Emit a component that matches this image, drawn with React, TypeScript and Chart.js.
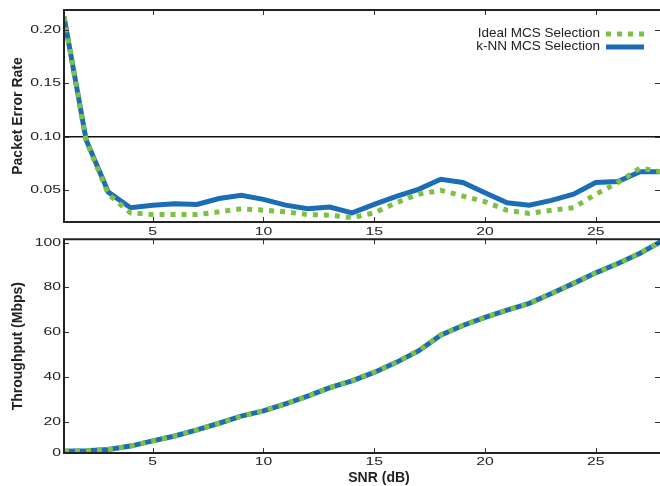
import { useEffect, useRef } from 'react';
import { Chart, registerables } from 'chart.js';

Chart.register(...registerables);

const SNR = [1, 2, 3, 4, 5, 6, 7, 8, 9, 10, 11, 12, 13, 14, 15, 16, 17, 18, 19, 20, 21, 22, 23, 24, 25, 26, 27, 28];

const PER_IDEAL = [0.2125, 0.096, 0.046, 0.0286, 0.027, 0.027, 0.027, 0.0295, 0.0324, 0.0311, 0.0295, 0.027, 0.0264, 0.024, 0.0286, 0.038, 0.046, 0.0497, 0.0443, 0.039, 0.031, 0.028, 0.031, 0.0334, 0.046, 0.057, 0.0705, 0.067];
const PER_KNN = [0.2125, 0.097, 0.048, 0.0334, 0.0358, 0.037, 0.0365, 0.042, 0.045, 0.0412, 0.0358, 0.0324, 0.034, 0.0286, 0.0365, 0.044, 0.0506, 0.06, 0.057, 0.0475, 0.038, 0.0358, 0.0403, 0.046, 0.057, 0.058, 0.0672, 0.0672];

const THR_IDEAL = [6.8, 7.0, 7.6, 9.1, 11.4, 13.6, 16.3, 19.3, 22.5, 24.8, 28.0, 31.4, 35.2, 38.4, 42.2, 46.6, 51.8, 58.8, 63.0, 66.6, 69.9, 72.9, 77.3, 81.8, 86.5, 90.7, 95.3, 100.8];
const THR_KNN = [6.8, 7.0, 7.6, 9.1, 11.4, 13.6, 16.3, 19.3, 22.5, 24.8, 28.0, 31.4, 35.2, 38.2, 42.0, 46.5, 51.6, 58.6, 63.0, 66.6, 69.9, 72.9, 77.3, 81.8, 86.5, 90.7, 95.3, 100.8];

const SERIES_LABELS = ['Ideal MCS Selection', 'k-NN MCS Selection'];
const X_TICKS = [5, 10, 15, 20, 25];
const PER_TICKS = [0.05, 0.1, 0.15, 0.2];
const THR_TICKS = [0, 20, 40, 60, 80, 100];
const PER_THRESHOLD = 0.1;
const X_TITLE = 'SNR (dB)';
const PER_TITLE = 'Packet Error Rate';
const THR_TITLE = 'Throughput (Mbps)';

const BLUE = '#1b6db6';
const GREEN = '#7cc142';
const FONT = 'Liberation Sans, Arial, Helvetica, sans-serif';

const pts = (ys: number[]) => SNR.map((x, i) => ({ x, y: ys[i] }));

// Tick labels in the reference are horizontally stretched glyphs
const stretchPlugin = {
  id: 'tickStretch',
  beforeDraw(chart: any) {
    Object.values(chart.scales).forEach((s: any) => {
      if (s.__stretched) return;
      const orig = s.drawLabels.bind(s);
      s.drawLabels = (area: any) => {
        const c = s.ctx;
        const protoFill = CanvasRenderingContext2D.prototype.fillText;
        c.fillText = function (text: string, x: number, y: number) {
          c.save();
          c.translate(x, y);
          c.scale(1.5, 1);
          protoFill.call(c, text, 0, 0);
          c.restore();
        };
        try {
          orig(area);
        } finally {
          delete c.fillText;
        }
      };
      s.__stretched = true;
    });
  },
};

const framePlugin = {
  id: 'frameTicks',
  afterDraw(chart: any) {
    const { ctx, chartArea: a, scales } = chart;
    ctx.save();
    ctx.strokeStyle = '#333';
    ctx.lineWidth = 1;
    ctx.beginPath();
    for (const t of scales.x.ticks) {
      const px = Math.round(scales.x.getPixelForValue(t.value)) + 0.5;
      ctx.moveTo(px, a.bottom);
      ctx.lineTo(px, a.bottom - 5);
      ctx.moveTo(px, a.top);
      ctx.lineTo(px, a.top + 5);
    }
    for (const t of scales.y.ticks) {
      const py = Math.round(scales.y.getPixelForValue(t.value)) + 0.5;
      ctx.moveTo(a.left, py);
      ctx.lineTo(a.left + 5, py);
      ctx.moveTo(a.right, py);
      ctx.lineTo(a.right - 5, py);
    }
    ctx.stroke();
    ctx.lineWidth = 2;
    ctx.strokeStyle = '#222';
    ctx.beginPath();
    ctx.moveTo(a.right + 2, a.top);
    ctx.lineTo(a.left, a.top);
    ctx.lineTo(a.left, a.bottom);
    ctx.lineTo(a.right + 2, a.bottom);
    ctx.stroke();
    ctx.restore();
  },
};

const legendPlugin = {
  id: 'insideLegend',
  afterDraw(chart: any) {
    const { ctx, chartArea: a } = chart;
    ctx.save();
    ctx.font = `13.5px ${FONT}`;
    ctx.textAlign = 'right';
    ctx.textBaseline = 'middle';
    chart.data.datasets.forEach((ds: any, i: number) => {
      const y = a.top + 23 + i * 13;
      const xText = a.right - 60;
      ctx.fillStyle = '#222';
      ctx.fillText(ds.label, xText, y);
      ctx.beginPath();
      ctx.strokeStyle = ds.borderColor;
      ctx.lineWidth = ds.borderWidth;
      ctx.setLineDash(ds.borderDash || []);
      ctx.moveTo(xText + 6, y + 1);
      ctx.lineTo(xText + 44, y + 1);
      ctx.stroke();
      ctx.setLineDash([]);
    });
    ctx.restore();
  },
};

const xTitlePlugin = {
  id: 'xTitle',
  afterDraw(chart: any) {
    const { ctx, chartArea: a } = chart;
    ctx.save();
    ctx.font = `bold 14px ${FONT}`;
    ctx.fillStyle = '#222';
    ctx.textAlign = 'center';
    ctx.textBaseline = 'middle';
    ctx.fillText(X_TITLE, (a.left + a.right) / 2 + 17, a.bottom + 25);
    ctx.restore();
  },
};

function datasets(ideal: number[], knn: number[]) {
  return [
    {
      label: SERIES_LABELS[0],
      data: pts(ideal),
      borderColor: GREEN,
      borderWidth: 5,
      borderDash: [5, 6],
      borderCapStyle: 'butt',
      pointRadius: 0,
      tension: 0,
      order: 0,
    },
    {
      label: SERIES_LABELS[1],
      data: pts(knn),
      borderColor: BLUE,
      borderWidth: 5,
      pointRadius: 0,
      tension: 0,
      order: 1,
    },
  ];
}

const tickFont = { family: FONT, size: 10.5 };

const xScale = (labelPad: number, h: number) => ({
  type: 'linear',
  min: 1,
  max: 27.9,
  afterBuildTicks: (s: any) => {
    s.ticks = X_TICKS.map((v) => ({ value: v }));
  },
  afterFit: (s: any) => {
    s.height = h;
  },
  grid: { display: false, drawTicks: false },
  border: { display: false },
  ticks: {
    padding: labelPad,
    color: '#222',
    font: tickFont,
    maxRotation: 0,
    autoSkip: false,
  },
});

export default function App() {
  const topRef = useRef<HTMLCanvasElement>(null);
  const botRef = useRef<HTMLCanvasElement>(null);

  useEffect(() => {
    const top = new Chart(topRef.current!, {
      type: 'line',
      data: { datasets: datasets(PER_IDEAL, PER_KNN) as any },
      options: {
        animation: false,
        responsive: false,
        layout: { padding: { top: 10, right: 0, left: 0, bottom: 0 } },
        plugins: { legend: { display: false }, tooltip: { enabled: false } },
        scales: {
          x: xScale(4, 18) as any,
          y: {
            type: 'linear',
            min: 0.02,
            max: 0.21875,
            afterBuildTicks: (s: any) => {
              s.ticks = PER_TICKS.map((v) => ({ value: v }));
            },
            afterFit: (s: any) => {
              s.width = 64;
            },
            grid: {
              drawTicks: false,
              lineWidth: 1.5,
              color: (c: any) => (c.tick && Math.abs(c.tick.value - PER_THRESHOLD) < 1e-9 ? '#111' : 'rgba(0,0,0,0)'),
            },
            border: { display: false },
            ticks: {
              padding: 3,
              color: '#222',
              font: tickFont,
              callback: (v: any) => Number(v).toFixed(2),
            },
            title: {
              display: true,
              text: PER_TITLE,
              color: '#222',
              font: { family: FONT, size: 14, weight: 'bold' },
              padding: { top: 10, bottom: 0 },
            },
          },
        },
      },
      plugins: [stretchPlugin, framePlugin, legendPlugin],
    });

    const bot = new Chart(botRef.current!, {
      type: 'line',
      data: { datasets: datasets(THR_IDEAL, THR_KNN) as any },
      options: {
        animation: false,
        responsive: false,
        layout: { padding: { top: 8, right: 0, left: 0, bottom: 0 } },
        plugins: { legend: { display: false }, tooltip: { enabled: false } },
        scales: {
          x: xScale(3, 33) as any,
          y: {
            type: 'linear',
            min: 6,
            max: 101.5,
            afterBuildTicks: (s: any) => {
              s.ticks = THR_TICKS.map((v) => ({ value: Math.max(v, s.min) }));
            },
            afterFit: (s: any) => {
              s.width = 64;
            },
            grid: { display: false, drawTicks: false },
            border: { display: false },
            ticks: {
              padding: 3,
              color: '#222',
              font: tickFont,
              callback: (_v: any, i: number) => String(THR_TICKS[i]),
            },
            title: {
              display: true,
              text: THR_TITLE,
              color: '#222',
              font: { family: FONT, size: 14, weight: 'bold' },
              padding: { top: 10, bottom: 0 },
            },
          },
        },
      },
      plugins: [stretchPlugin, framePlugin, xTitlePlugin],
    });

    return () => {
      top.destroy();
      bot.destroy();
    };
  }, []);

  return (
    <div style={{ position: 'fixed', left: 0, top: 0, width: 660, height: 486, background: '#fff', overflow: 'hidden' }}>
      <canvas ref={topRef} width={660} height={240} style={{ position: 'absolute', left: 0, top: 0, width: 660, height: 240 }} />
      <canvas ref={botRef} width={660} height={256} style={{ position: 'absolute', left: 0, top: 230, width: 660, height: 256 }} />
    </div>
  );
}
